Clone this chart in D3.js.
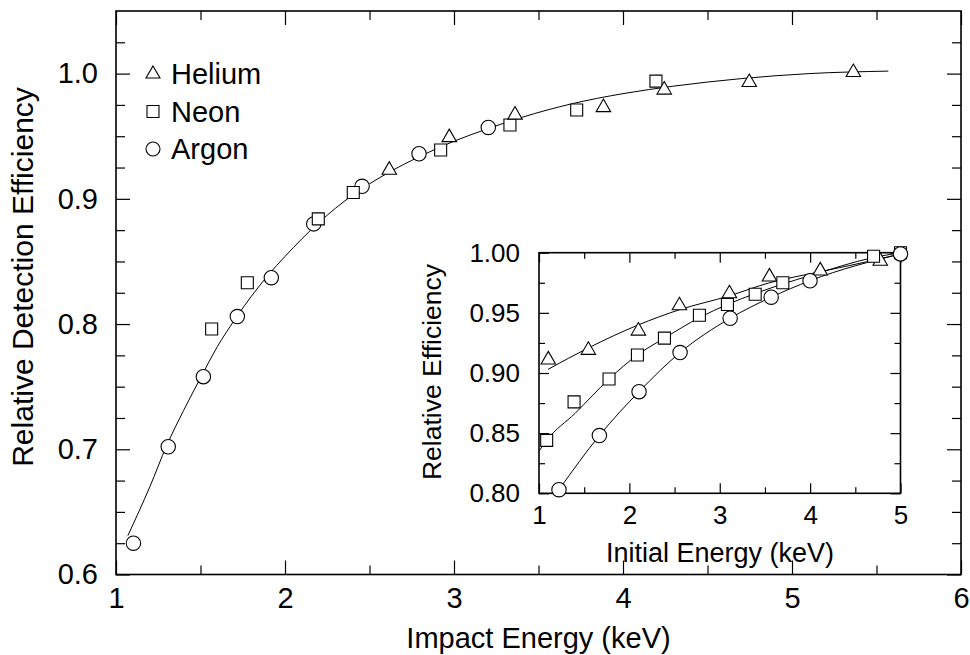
<!DOCTYPE html>
<html><head><meta charset="utf-8">
<script src="https://cdn.jsdelivr.net/npm/d3@7"></script>
<style>
body{margin:0;background:#fff}
svg{display:block}
text{font-family:"Liberation Sans",Arial,Helvetica,sans-serif;fill:#000}
</style>
</head><body>
<svg id="chart" width="970" height="655"></svg>
<script>
// ---------- main panel data ----------
const heliumX = [2.617, 2.972, 3.361, 3.884, 4.244, 4.747, 5.363];
const heliumY = [0.923, 0.949, 0.967, 0.973, 0.987, 0.993, 1.001];
const neonX = [1.566, 1.777, 2.197, 2.404, 2.921, 3.331, 3.726, 4.195];
const neonY = [0.796, 0.833, 0.884, 0.905, 0.939, 0.959, 0.971, 0.994];
const argonX = [1.103, 1.309, 1.517, 1.718, 1.919, 2.170, 2.456, 2.793, 3.203];
const argonY = [0.625, 0.702, 0.758, 0.806, 0.837, 0.880, 0.910, 0.936, 0.957];
const fitX = [1.07, 1.2, 1.3, 1.4, 1.5, 1.6, 1.7, 1.8, 1.9, 2.0, 2.2, 2.4, 2.6, 2.8, 3.0, 3.2, 3.4, 3.7, 4.0, 4.3, 4.7, 5.1, 5.57];
const fitY = [0.631, 0.670, 0.703, 0.731, 0.757, 0.782, 0.803, 0.822, 0.839, 0.854, 0.881, 0.903, 0.920, 0.934, 0.946, 0.956, 0.965, 0.976, 0.984, 0.990, 0.996, 1.000, 1.002];
const xTicks = [1, 2, 3, 4, 5, 6];
const xMinor = [1.5, 2.5, 3.5, 4.5, 5.5];
const yTicks = [0.6, 0.7, 0.8, 0.9, 1.0];
const yMinor = [0.625, 0.65, 0.675, 0.725, 0.75, 0.775, 0.825, 0.85, 0.875, 0.925, 0.95, 0.975, 1.025];
const legendNames = ["Helium", "Neon", "Argon"];

// ---------- inset data ----------
const inHeX = [1.103, 1.546, 2.10, 2.554, 3.107, 3.550, 4.112, 4.776];
const inHeY = [0.911, 0.919, 0.935, 0.956, 0.966, 0.980, 0.985, 0.993];
const inNeX = [1.085, 1.388, 1.775, 2.089, 2.388, 2.775, 3.085, 3.392, 3.698, 4.702, 5.0];
const inNeY = [0.844, 0.876, 0.895, 0.915, 0.929, 0.948, 0.957, 0.9655, 0.975, 0.997, 1.0];
const inArX = [1.221, 1.668, 2.107, 2.561, 3.115, 3.569, 3.999, 5.0];
const inArY = [0.803, 0.848, 0.8845, 0.917, 0.9455, 0.963, 0.9767, 0.999];
const heFitX = [1.10, 1.55, 2.1, 2.55, 3.1, 3.55, 4.1, 4.78, 5.0];
const heFitY = [0.903, 0.921, 0.940, 0.9525, 0.964, 0.975, 0.984, 0.995, 0.999];
const neFitX = [1.0, 1.085, 1.4, 1.775, 2.089, 2.388, 2.775, 3.085, 3.392, 3.698, 4.0, 4.702, 5.0];
const neFitY = [0.835, 0.844, 0.8665, 0.895, 0.915, 0.929, 0.946, 0.957, 0.966, 0.974, 0.981, 0.996, 1.0];
const arFitX = [1.221, 1.668, 2.107, 2.561, 3.115, 3.569, 3.999, 5.0];
const arFitY = [0.803, 0.848, 0.8845, 0.917, 0.9455, 0.963, 0.9767, 0.999];
const inXTicks = [1, 2, 3, 4, 5];
const inXMinor = [1.5, 2.5, 3.5, 4.5];
const inYTicks = [0.80, 0.85, 0.90, 0.95, 1.00];
const inYMinor = [0.825, 0.875, 0.925, 0.975];

const svg = d3.select("#chart");
const zip = (a, b) => a.map((v, i) => [v, b[i]]);

// marker helpers
function triPath(s) { const h = s * Math.sqrt(3) / 2; return `M0,${-2*h/3}L${s/2},${h/3}L${-s/2},${h/3}Z`; }
function drawMarkers(g, pts, kind, x, y) {
  const sel = g.append("g").selectAll("path").data(pts).join("path")
    .attr("transform", d => `translate(${x(d[0])},${y(d[1])})`)
    .attr("fill", "#fff").attr("stroke", "#000").attr("stroke-width", 1.1);
  if (kind === "tri") sel.attr("d", triPath(14.5));
  else if (kind === "sq") sel.attr("d", "M-6,-6H6V6H-6Z");
  else sel.attr("d", d3.symbol(d3.symbolCircle, Math.PI * 7.2 * 7.2)());
}
function frameAxes(g, x, y, ticksX, minorX, ticksY, minorY, major, minor, fmtX, fmtY, fs, padX, padY) {
  const [x0, x1] = x.range(), [y0, y1] = y.range();
  const styleAx = a => { a.select(".domain").remove(); a.selectAll("line").attr("stroke", "#000").attr("stroke-width", 1.2); a.selectAll("text").attr("font-size", fs).attr("fill", "#000").attr("font-family", null); };
  g.append("g").attr("transform", `translate(0,${y0})`).call(d3.axisBottom(x).tickValues(ticksX).tickSize(-major).tickPadding(padX).tickFormat(fmtX)).call(styleAx);
  g.append("g").attr("transform", `translate(0,${y0})`).call(d3.axisBottom(x).tickValues(minorX).tickSize(-minor).tickFormat("")).call(styleAx);
  g.append("g").attr("transform", `translate(0,${y1})`).call(d3.axisTop(x).tickValues(ticksX).tickSize(-major).tickFormat("")).call(styleAx);
  g.append("g").attr("transform", `translate(0,${y1})`).call(d3.axisTop(x).tickValues(minorX).tickSize(-minor).tickFormat("")).call(styleAx);
  g.append("g").attr("transform", `translate(${x0},0)`).call(d3.axisLeft(y).tickValues(ticksY).tickSize(-major).tickPadding(padY).tickFormat(fmtY)).call(styleAx);
  g.append("g").attr("transform", `translate(${x0},0)`).call(d3.axisLeft(y).tickValues(minorY).tickSize(-minor).tickFormat("")).call(styleAx);
  g.append("g").attr("transform", `translate(${x1},0)`).call(d3.axisRight(y).tickValues(ticksY).tickSize(-major).tickFormat("")).call(styleAx);
  g.append("g").attr("transform", `translate(${x1},0)`).call(d3.axisRight(y).tickValues(minorY).tickSize(-minor).tickFormat("")).call(styleAx);
  g.append("rect").attr("x", x0).attr("y", y1).attr("width", x1 - x0).attr("height", y0 - y1)
    .attr("fill", "none").attr("stroke", "#000").attr("stroke-width", 1.6);
}

// ---------- main panel ----------
const x = d3.scaleLinear().domain([1, 6]).range([116, 961]);
const y = d3.scaleLinear().domain([0.6, 1.05]).range([574.5, 11]);
const main = svg.append("g");
frameAxes(main, x, y, xTicks, xMinor, yTicks, yMinor, 14, 9, d3.format("d"), d3.format(".1f"), 29, 13, 18);

const line = d3.line().x(d => x(d[0])).y(d => y(d[1])).curve(d3.curveMonotoneX);
main.append("path").attr("d", line(zip(fitX, fitY))).attr("fill", "none").attr("stroke", "#000").attr("stroke-width", 1);
drawMarkers(main, zip(argonX, argonY), "circ", x, y);
drawMarkers(main, zip(neonX, neonY), "sq", x, y);
drawMarkers(main, zip(heliumX, heliumY), "tri", x, y);

main.append("text").attr("x", x(3.5)).attr("y", 648).attr("text-anchor", "middle").attr("font-size", 29).text("Impact Energy (keV)");
main.append("text").attr("transform", "translate(33,277) rotate(-90)").attr("text-anchor", "middle").attr("font-size", 30).text("Relative Detection Efficiency");

// legend
const kinds = ["tri", "sq", "circ"];
const leg = main.append("g");
legendNames.forEach((n, i) => {
  const cy = 74 + i * 37.5;
  const m = leg.append("path").attr("transform", `translate(153,${cy})`).attr("fill", "#fff").attr("stroke", "#000").attr("stroke-width", 1.1);
  if (kinds[i] === "tri") m.attr("d", triPath(14)); else if (kinds[i] === "sq") m.attr("d", "M-6,-6H6V6H-6Z"); else m.attr("d", d3.symbol(d3.symbolCircle, Math.PI * 7 * 7)());
  leg.append("text").attr("x", 171).attr("y", cy + 10).attr("font-size", 29).text(n);
});

// ---------- inset ----------
const ix = d3.scaleLinear().domain([1, 5]).range([539, 900.5]);
const iy = d3.scaleLinear().domain([0.80, 1.00]).range([493.3, 252.7]);
const ins = svg.append("g");
ins.append("rect").attr("x", 539).attr("y", 252.7).attr("width", 361.5).attr("height", 240.6).attr("fill", "#fff");
frameAxes(ins, ix, iy, inXTicks, inXMinor, inYTicks, inYMinor, 10, 6, d3.format("d"), d3.format(".2f"), 26, 12, 19);
const iline = d3.line().x(d => ix(d[0])).y(d => iy(d[1])).curve(d3.curveMonotoneX);
[[heFitX, heFitY], [neFitX, neFitY], [arFitX, arFitY]].forEach(([a, b]) =>
  ins.append("path").attr("d", iline(zip(a, b))).attr("fill", "none").attr("stroke", "#000").attr("stroke-width", 1));
drawMarkers(ins, zip(inHeX, inHeY), "tri", ix, iy);
drawMarkers(ins, zip(inNeX, inNeY), "sq", ix, iy);
drawMarkers(ins, zip(inArX, inArY), "circ", ix, iy);
ins.append("text").attr("x", 720).attr("y", 562).attr("text-anchor", "middle").attr("font-size", 27).text("Initial Energy (keV)");
ins.append("text").attr("transform", "translate(441,372) rotate(-90)").attr("text-anchor", "middle").attr("font-size", 26.5).text("Relative Efficiency");
</script>
</body></html>
